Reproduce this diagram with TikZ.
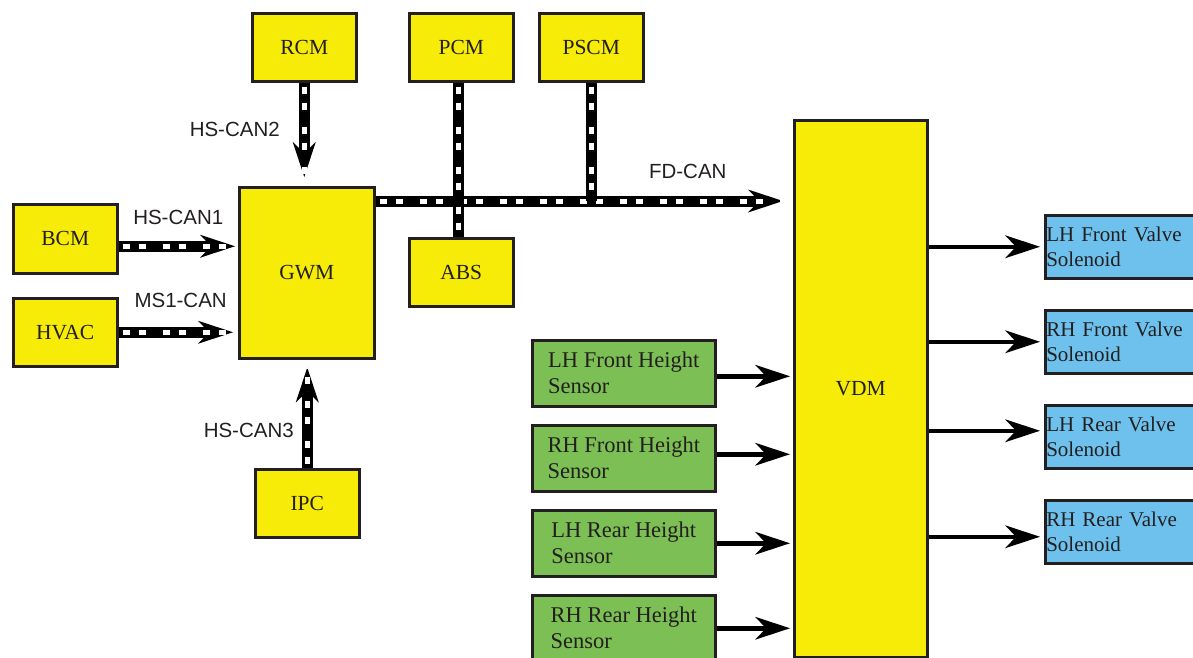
\documentclass[tikz,border=0pt]{standalone}
\usepackage{fontspec}
\setmainfont{Liberation Serif}
\setsansfont{Liberation Sans}
\usetikzlibrary{arrows.meta,positioning}

\definecolor{ecuyellow}{RGB}{247,236,8}
\definecolor{sensgreen}{RGB}{124,191,84}
\definecolor{valveblue}{RGB}{110,193,236}
\definecolor{inkblack}{RGB}{35,31,32}

\tikzset{
  box/.style={draw=inkblack, line width=2.5pt, text=inkblack,
    font=\fontsize{21.5}{26}\selectfont, anchor=north west},
  ecu/.style={box, fill=ecuyellow, minimum width=104pt, minimum height=68pt, inner sep=0pt},
  sensor/.style={box, fill=sensgreen, minimum width=183pt, minimum height=66pt,
    inner sep=0pt, align=left, font=\fontsize{22.5}{26}\selectfont},
  valve/.style={box, fill=valveblue, minimum height=63pt, text width=158pt,
    inner xsep=1pt, inner ysep=0pt, align=left, font=\fontsize{21}{25}\selectfont},
  bus/.style={draw=black, line width=11pt,
    postaction={draw=white, line width=5pt, arrows=-,
      dash pattern=on 7pt off 9pt on 7pt off 17pt, shorten <=4pt}},
  sig/.style={draw=black, line width=4.5pt, ->},
  buslabel/.style={font=\sffamily\fontsize{20.5}{24}\selectfont, text=inkblack, inner sep=0pt}
}

\begin{document}
\begin{tikzpicture}[%
        x=1pt, y=-1pt,
        >={Stealth[length=35pt, width=23pt, inset=11pt, line width=0pt]}
        ]

        \useasboundingbox (0,0) rectangle (1193,657);

        % modules on the CAN buses
        \node[ecu, minimum width=135pt, minimum height=171pt] (gwm) at (238,186) {GWM};
        \node[ecu] (rcm) at (251,12) {RCM};
        \node[ecu] (pcm) at (408,12) {PCM};
        \node[ecu, right=23.5pt of pcm] (pscm) {PSCM};
        \node[ecu] (abs) at (408,237) {ABS};
        \node[ecu, minimum height=69pt] (bcm) at (12,203) {BCM};
        \node[ecu, below=22.5pt of bcm] (hvac) {HVAC};
        \node[ecu] (ipc) at (254,468) {IPC};
        \node[ecu, minimum width=133pt, minimum height=537pt] (vdm) at (793,119) {VDM};

        % height sensors
        \node[sensor] (lhfh) at (531,339) {LH Front Height\\Sensor};
        \node[sensor, below=16.5pt of lhfh] (rhfh) {RH Front Height\\Sensor};
        \node[sensor, below=16.5pt of rhfh] (lhrh) {LH Rear Height\\Sensor};
        \node[sensor, below=16.5pt of lhrh] (rhrh) {RH Rear Height\\Sensor};

        % valve solenoids
        \node[valve] (lhfv) at (1044,214) {LH Front Valve\\Solenoid};
        \node[valve, below=29.5pt of lhfv] (rhfv) {RH Front Valve\\Solenoid};
        \node[valve, below=29.5pt of rhfv] (lhrv) {LH Rear Valve\\Solenoid};
        \node[valve, below=29.5pt of lhrv] (rhrv) {RH Rear Valve\\Solenoid};

        % buses
        \draw[bus, ->, shorten >=3pt, postaction={shorten >=40pt}] ([yshift=-7.5pt]bcm.east)
            -- ([yshift=-7.5pt]bcm.east -| gwm.west)
            node[buslabel, pos=.5, above=16pt] {HS-CAN1};
        \draw[bus, ->, shorten >=5pt, postaction={shorten >=42pt}] (hvac.east)
            -- (hvac.east -| gwm.west)
            node[buslabel, pos=.52, above=19pt] {MS1-CAN};
        \draw[bus, ->, shorten >=9pt, postaction={shorten >=46pt}] (rcm.south)
            -- (rcm.south |- gwm.north)
            node[buslabel, pos=.45, left=19pt] {HS-CAN2};
        \draw[bus, ->, shorten >=8pt, postaction={shorten >=45pt}] (ipc.north)
            -- (ipc.north |- gwm.south)
            node[buslabel, pos=.35, left=8pt] {HS-CAN3};
        \draw[bus, ->, shorten >=10pt, postaction={shorten >=47pt}] ([yshift=-15pt]gwm.north east)
            -- ([yshift=-15pt]gwm.north east -| vdm.west)
            node[buslabel, pos=.748, above=16.5pt] {FD-CAN};
        \draw[bus] ([xshift=-3pt]pcm.south) -- ([xshift=-3pt]pcm.south |- abs.north);
        \draw[bus] (pscm.south) -- ([yshift=-15pt]pscm.south |- gwm.north east);

        % signal lines
        \draw[sig, shorten >=3pt] ([yshift=-3pt]lhfh.east) -- ([yshift=-3pt]lhfh.east -| vdm.west);
        \draw[sig, shorten >=3pt] ([yshift=4pt]rhfh.east) -- ([yshift=4pt]rhfh.east -| vdm.west);
        \draw[sig, shorten >=3pt] (lhrh.east) -- (lhrh.east -| vdm.west);
        \draw[sig, shorten >=3pt] (rhrh.east) -- (rhrh.east -| vdm.west);
        \draw[sig, shorten >=4pt] (vdm.east |- lhfv.west) -- (lhfv.west);
        \draw[sig, shorten >=4pt] (vdm.east |- rhfv.west) -- (rhfv.west);
        \draw[sig, shorten >=4pt] ([yshift=6pt]vdm.east |- lhrv.west) -- ([yshift=6pt]lhrv.west);
        \draw[sig, shorten >=4pt] ([yshift=-5pt]vdm.east |- rhrv.west) -- ([yshift=-5pt]rhrv.west);

        \end{tikzpicture}
\end{document}
